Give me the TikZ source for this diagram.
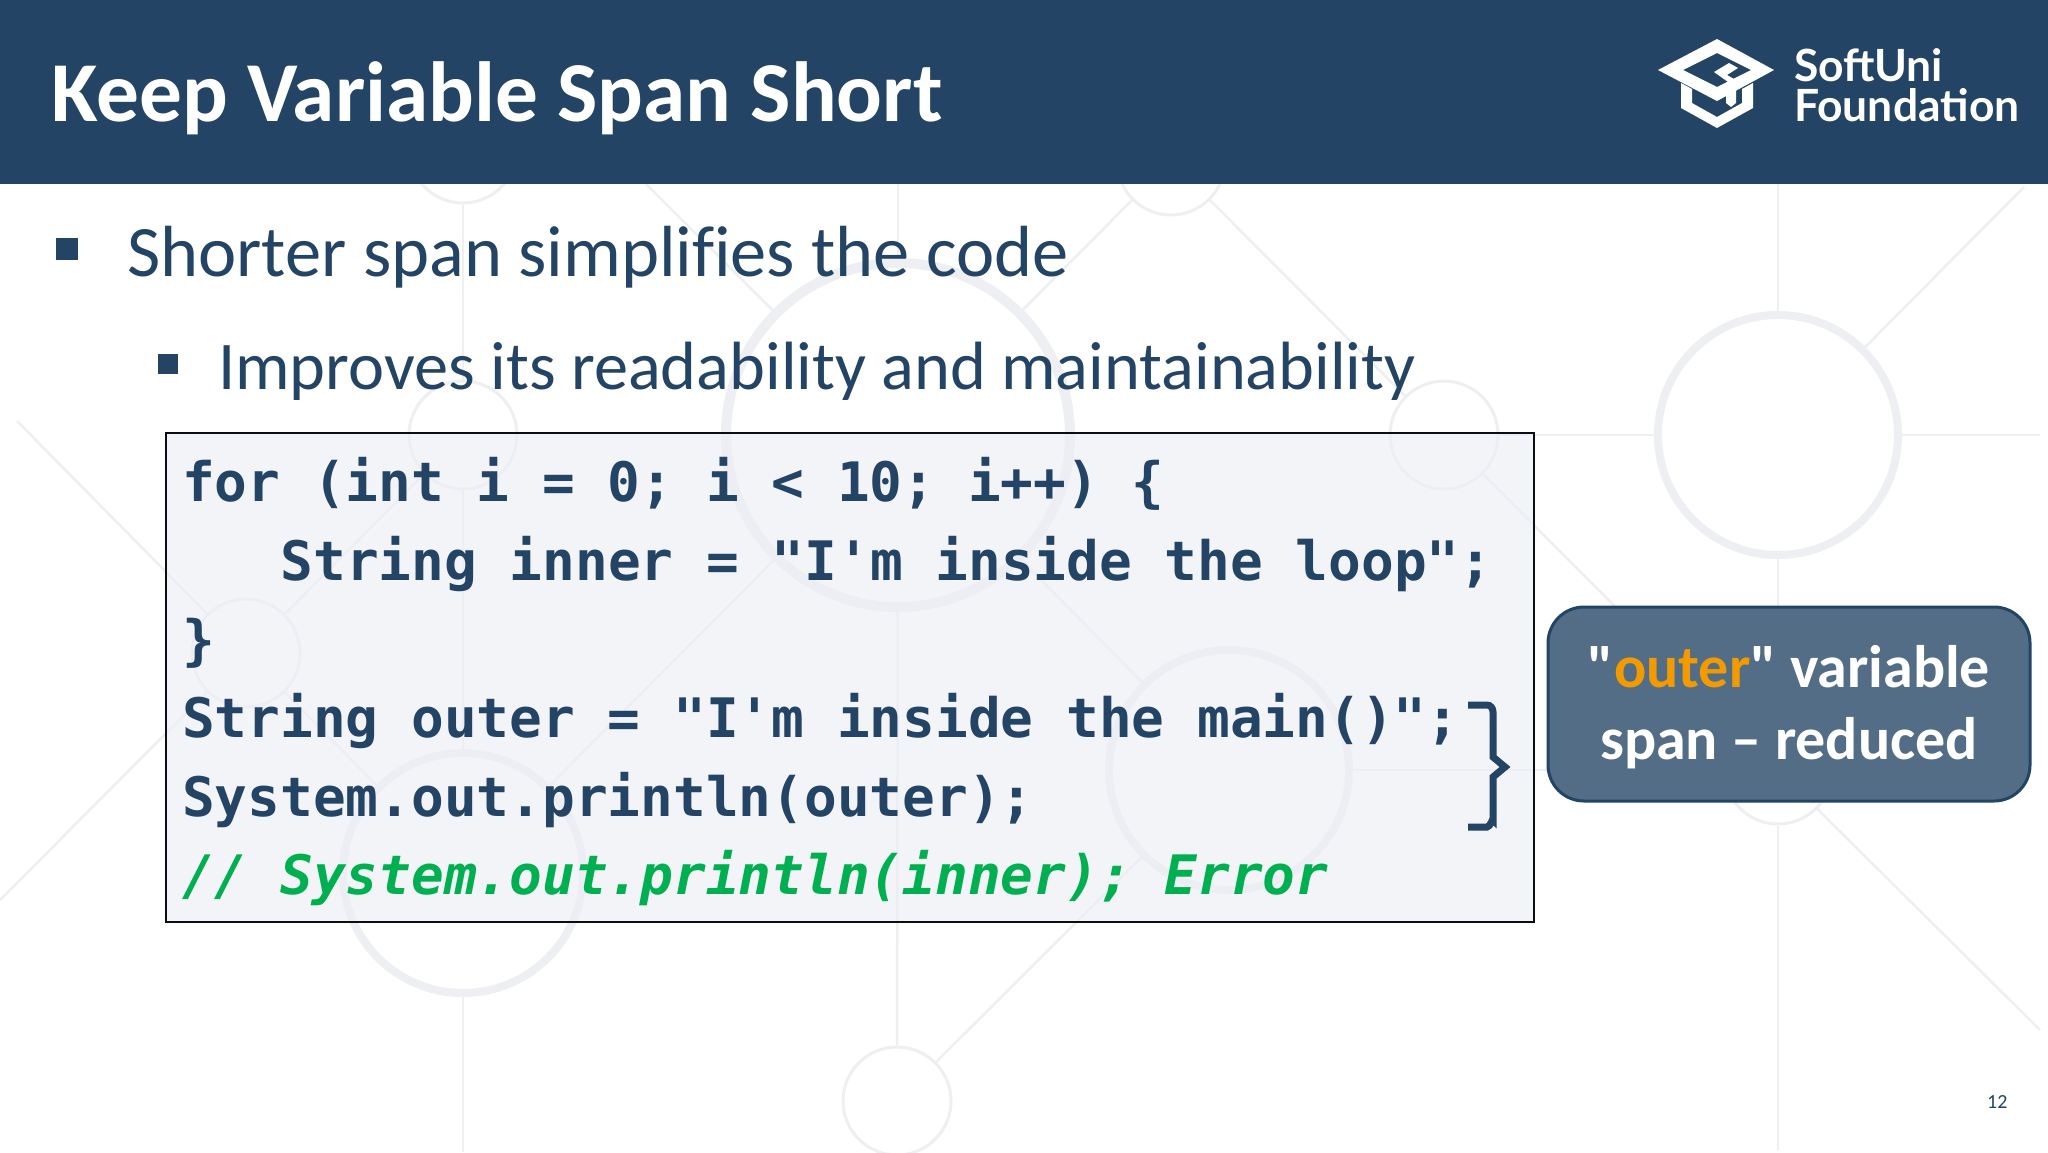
\documentclass[tikz,border=0pt]{standalone}
\usepackage{fontspec}
\setmainfont[Ligatures=NoCommon]{Carlito}
\newfontfamily\notefont[Ligatures=NoCommon]{Carlito}
\newfontfamily\codefont{DejaVu Sans Mono}
\newfontfamily\logofont{Lato}
\usetikzlibrary{positioning}
\definecolor{slidenavy}{HTML}{234465}
\definecolor{ringgray}{HTML}{EEEFF2}
\definecolor{codegreen}{HTML}{00B050}
\definecolor{outerorange}{HTML}{F29B00}

\begin{document}
\begin{tikzpicture}[x=1pt,y=-1pt,
                every node/.append style={inner sep=0pt},
                ring/.style={circle,draw=ringgray,line width=3pt},
                bigring/.style={circle,draw=ringgray,line width=8pt,minimum size=240pt},
                spoke/.style={ringgray,line width=2.5pt},
                slidetext/.style={anchor=base west,text=slidenavy},
                codeline/.style={anchor=base west,text=slidenavy,font=\fontsize{54.4}{66}\codefont\bfseries},
                bulletbox/.style={rectangle,fill=slidenavy}]
                \useasboundingbox (0,0) rectangle (2048,1152);
                \fill[white] (0,0) rectangle (2048,1152);
                % rings behind the slide
                \node [bigring,line width=10pt,minimum size=344pt] (hub) at (898,435) {};
                \node [bigring] (ringr) at (1778,435) {};
                \node [bigring] (ringb) at (463,873) {};
                \node [bigring] (ringm) at (1229,770) {};
                \node [ring,minimum size=108pt] (dotb) at (897,1101) {};
                \node [ring,minimum size=108pt] (dotl) at (463,435) {};
                \node [ring,minimum size=108pt] (dotm) at (1444,435) {};
                \node [ring,minimum size=108pt] (dotw) at (246,653) {};
                \node [ring,minimum size=108pt] (dotr) at (1778,770) {};
                \node [ring,minimum size=108pt] (dott) at (463,149) {};
                \node [ring,minimum size=108pt] (dotc) at (1171,161) {};
                \coordinate (endla) at (463,1152);
                \coordinate (endha) at (898,184);
                \coordinate (endra) at (1778,184);
                \coordinate (endrb) at (1778,1150);
                \coordinate (endh) at (2040,435);
                \coordinate (endd) at (646,184);
                \coordinate (ende) at (2024,187);
                \coordinate (endf) at (2040,1030);
                \coordinate (endg) at (17,421);
                \coordinate (endi) at (0,900);
                \begin{scope}[spoke]
                \draw (dott) -- (dotl);
                \draw (dotl) -- (ringb);
                \draw (ringb) -- (endla);
                \draw (endha) -- (hub);
                \draw (hub) -- (dotb);
                \draw (endra) -- (ringr);
                \draw (ringr) -- (dotr);
                \draw (dotr) -- (endrb);
                \draw (ringr) -- (endh);
                \draw (dotm) -- (ringr);
                \draw (ringm) -- (dotr);
                \draw (endd) -- (hub);
                \draw (dotc) -- (hub);
                \draw (dotc) -- (dotm);
                \draw (dotm) -- (dotr);
                \draw (ringr) -- (ende);
                \draw (dotr) -- (endf);
                \draw (ringm) -- (dotb);
                \draw (hub) -- (ringm);
                \draw (hub) -- (ringb);
                \draw (endg) -- (dotw);
                \draw (dotw) -- (ringb);
                \draw (dotw) -- (dotl);
                \draw (dotw) -- (endi);
                \end{scope}
                % header band
                \fill[slidenavy] (0,0) rectangle (2048,184);
                \node [anchor=base west,text=white,font=\fontsize{85.3}{96}\selectfont\bfseries] (title) at (51,121) {Keep Variable Span Short};
                \begin{scope}[white]
                \fill[even odd rule] (1717,39) -- (1774,70) -- (1717,101) -- (1658,70) -- cycle
                    (1717,53) -- (1751,70) -- (1717,87) -- (1683,70) -- cycle;
                \fill (1681,83) -- (1692,89) -- (1692,103) -- (1717,117) -- (1742,103) -- (1742,89) -- (1753,83)
                    -- (1753,108) -- (1717,128) -- (1681,108) -- cycle;
                \fill (1714,72) -- (1729,63) -- (1738,68) -- (1727,75) -- (1734,79) -- (1728,82) -- cycle;
                \fill (1726,84) -- (1736,79) -- (1736,103) -- (1731,107) -- (1726,103) -- cycle;
                \end{scope}
                \node [anchor=base west,text=white,font=\fontsize{44.4}{40}\logofont\bfseries] (softuni) at (1794,81) {SoftUni};
                \node [anchor=base west,text=white,font=\fontsize{44.4}{40}\logofont\bfseries] (foundation) at (1794,121) {Foundation};
                % bullets
                \node [bulletbox,minimum size=22pt] (bulleta) at (67,249) {};
                \node [slidetext,font=\fontsize{72.4}{80}\selectfont] (shorter) at (127,276) {Shorter span simplifies the code};
                \node [bulletbox,minimum size=20pt] (bulletb) at (168,364) {};
                \node [slidetext,font=\fontsize{68.3}{74}\selectfont] (improves) at (218,389) {Improves its readability and maintainability};
                % code box
                \fill[fill=white,fill opacity=.62] (166,433) rectangle (1534,922);
                \fill[fill=slidenavy!85!blue,fill opacity=.05] (166,433) rectangle (1534,922);
                \draw[draw=black!80!slidenavy,line width=2.5pt] (166,433) rectangle (1534,922);
                \node [codeline] (forline) at (182,501) {for (int i = 0; i < 10; i++) \{};
                \node [codeline] (innerline) at (280.4,580) {String inner = "I'm inside the loop";};
                \node [codeline] (closeline) at (182,659) {\}};
                \node [codeline] (outerline) at (182,737) {String outer = "I'm inside the main()";};
                \node [codeline] (printline) at (182,816) {System.out.println(outer);};
                \node [codeline,text=codegreen,font=\fontsize{54.4}{66}\codefont\bfseries\itshape] (errorline) at (182,894) {// System.out.println(inner); Error};
                % brace next to the code
                \draw[slidenavy,line width=7pt] (1468,705) -- (1487,705) to[out=0,in=90] (1493,712) -- (1493,757)
                    -- (1505,767) -- (1493,777) -- (1493,820) to[out=90,in=0] (1487,827) -- (1468,827);
                \node [rectangle,rounded corners=36pt,draw=slidenavy,fill=slidenavy!78!white,line width=3pt,
                    minimum width=482pt,minimum height=194pt] (spannote) at (1789,704) {};
                \node [align=center,text=white,font=\fontsize{60}{72}\notefont\bfseries] (spantext) at (1789,707)
                    {"\textcolor{outerorange}{outer}" variable\\span – reduced};
                \node [slidetext,font=\fontsize{20}{24}\selectfont] (pagenum) at (1987,1108) {12};
                \end{tikzpicture}
\end{document}
